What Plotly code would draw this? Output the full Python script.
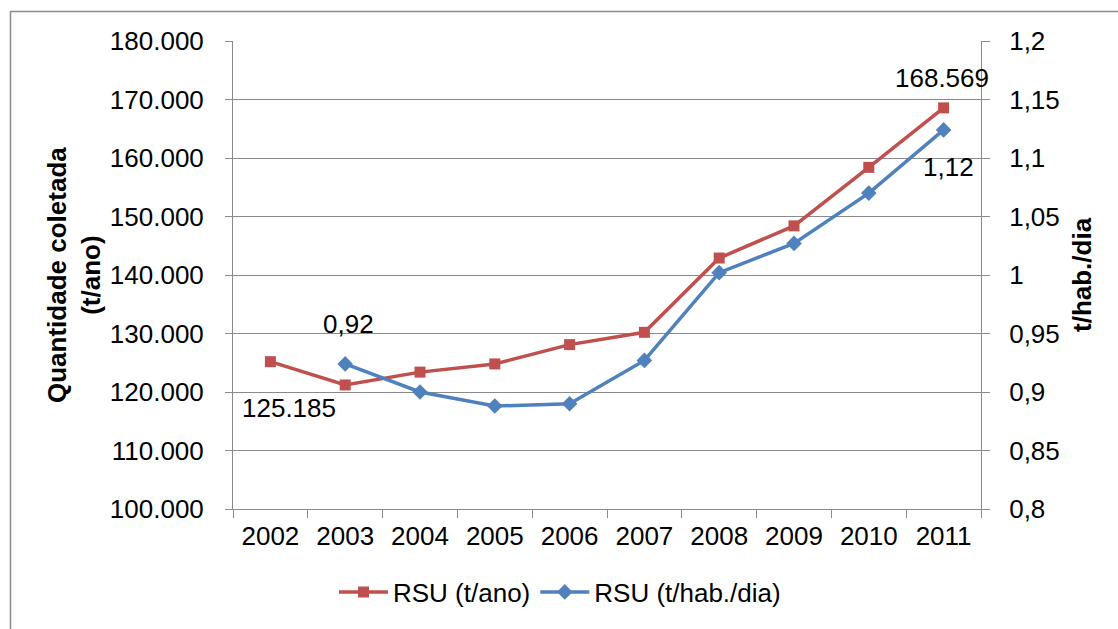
import plotly.graph_objects as go

# Coleta de resíduos sólidos urbanos (RSU), 2002-2011
anos = ["2002", "2003", "2004", "2005", "2006", "2007", "2008", "2009", "2010", "2011"]
rsu_t_ano = [125185, 121200, 123400, 124800, 128100, 130200, 142900, 148400, 158400, 168569]
rsu_t_hab_dia = [None, 0.924, 0.900, 0.888, 0.890, 0.927, 1.002, 1.027, 1.070, 1.124]

# rótulos do eixo secundário
y2_vals = [0.8, 0.85, 0.9, 0.95, 1.0, 1.05, 1.1, 1.15, 1.2]
y2_text = ["0,8", "0,85", "0,9", "0,95", "1", "1,05", "1,1", "1,15", "1,2"]

RED = "#C0504D"
BLUE = "#4F81BD"
GRID = "#8A8A8A"
FONT = "Liberation Sans, Arial, sans-serif"

W, H = 1118, 629
L, R, T, B = 233, 137, 41, 120


def fmt_mil(v):
    return f"{v:,}".replace(",", ".")


def fmt_dec(v):
    return f"{v:.2f}".replace(".", ",")


fig = go.Figure()
fig.add_trace(go.Scatter(
    x=anos, y=rsu_t_ano, name="RSU (t/ano)", mode="lines+markers",
    line=dict(color=RED, width=3.5),
    marker=dict(symbol="square", size=11, color=RED),
    yaxis="y",
))
fig.add_trace(go.Scatter(
    x=anos, y=rsu_t_hab_dia, name="RSU (t/hab./dia)", mode="lines+markers",
    line=dict(color=BLUE, width=3.5),
    marker=dict(symbol="diamond", size=12, color=BLUE),
    yaxis="y2", connectgaps=False,
))

# rótulos de dados (primeiro e último ponto de cada série);
# no eixo de categorias a posição é o índice do ano
labels = [
    dict(i=0, y=rsu_t_ano[0], yref="y", text=fmt_mil(rsu_t_ano[0]), xshift=19, yshift=-46),
    dict(i=9, y=rsu_t_ano[9], yref="y", text=fmt_mil(rsu_t_ano[9]), xshift=-2, yshift=30),
    dict(i=1, y=rsu_t_hab_dia[1], yref="y2", text=fmt_dec(rsu_t_hab_dia[1]), xshift=3, yshift=40),
    dict(i=9, y=rsu_t_hab_dia[9], yref="y2", text=fmt_dec(rsu_t_hab_dia[9]), xshift=5, yshift=-37),
]
for a in labels:
    fig.add_annotation(
        x=a["i"], y=a["y"], xref="x", yref=a["yref"], text=a["text"],
        showarrow=False, xshift=a["xshift"], yshift=a["yshift"],
        font=dict(family=FONT, size=26, color="#000000"),
        xanchor="center", yanchor="middle",
    )

pw = W - L - R
ph = H - T - B

# títulos dos eixos
fig.add_annotation(
    x=(74 - L) / pw, y=0.5, xref="paper", yref="paper",
    text="<b>Quantidade coletada<br>(t/ano)</b>", textangle=-90,
    showarrow=False, xanchor="center", yanchor="middle",
    font=dict(family=FONT, size=26, color="#000000"),
)
fig.add_annotation(
    x=(1082 - L) / pw, y=0.5, xref="paper", yref="paper",
    text="<b>t/hab./dia</b>", textangle=-90,
    showarrow=False, xanchor="center", yanchor="middle",
    font=dict(family=FONT, size=26, color="#000000"),
)

# moldura da área do gráfico
fig.add_shape(
    type="rect", xref="paper", yref="paper",
    x0=(10.5 - L) / pw, x1=(W + 10 - L) / pw,
    y0=1 - (H + 10 - T) / ph, y1=1 + (T - 11.5) / ph,
    line=dict(color="#8C8C8C", width=1.5), fillcolor="rgba(0,0,0,0)",
    layer="below",
)

fig.update_layout(
    width=W, height=H,
    margin=dict(l=L, r=R, t=T, b=B, autoexpand=False),
    paper_bgcolor="#FFFFFF", plot_bgcolor="#FFFFFF",
    separators=",.",
    font=dict(family=FONT, size=26, color="#000000"),
    showlegend=True,
    legend=dict(
        orientation="h", x=(560 - L) / pw, xanchor="center",
        y=1 - (592 - T) / ph, yanchor="middle",
        font=dict(family=FONT, size=26, color="#000000"),
        bgcolor="rgba(0,0,0,0)", itemwidth=49,
    ),
    xaxis=dict(
        type="category", range=[-0.5, 9.5], tickson="boundaries",
        ticks="outside", ticklen=8, tickcolor=GRID, tickwidth=1,
        showline=True, linecolor=GRID, linewidth=1, showgrid=False,
        tickfont=dict(family=FONT, size=26), zeroline=False,
        ticklabelstandoff=4,
    ),
    yaxis=dict(
        range=[100000, 180000], dtick=10000, tickformat=",d",
        ticks="outside", ticklen=7, tickcolor=GRID, tickwidth=1,
        showline=True, linecolor=GRID, linewidth=1,
        showgrid=True, gridcolor=GRID, gridwidth=1, zeroline=False,
        tickfont=dict(family=FONT, size=26), ticklabelstandoff=16,
    ),
    yaxis2=dict(
        range=[0.8, 1.2], overlaying="y", side="right",
        tickvals=y2_vals, ticktext=y2_text,
        ticks="outside", ticklen=8, tickcolor=GRID, tickwidth=1,
        showline=True, linecolor=GRID, linewidth=1,
        showgrid=False, zeroline=False,
        tickfont=dict(family=FONT, size=26), ticklabelstandoff=14,
    ),
)

fig.write_html("out.html")
